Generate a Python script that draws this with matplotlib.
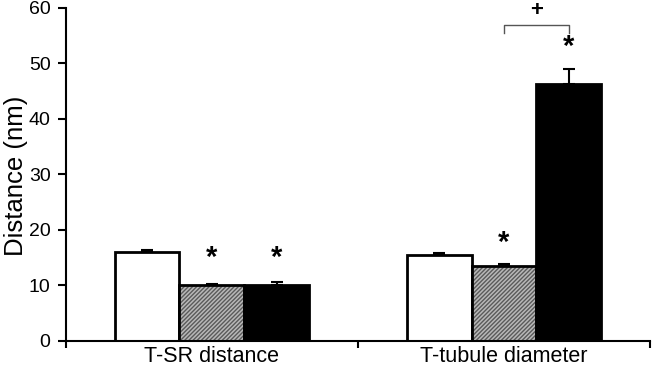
import numpy as np
import matplotlib
matplotlib.use("Agg")
import matplotlib.pyplot as plt

plt.rcParams["font.family"] = ["Liberation Sans", "DejaVu Sans"]
plt.rcParams["hatch.linewidth"] = 1.0

groups = ["T-SR distance", "T-tubule diameter"]
control = [16.0, 15.4]
control_err = [0.3, 0.5]
hatched = [10.0, 13.5]
hatched_err = [0.2, 0.3]
black = [10.0, 46.2]
black_err = [0.6, 2.8]

# significance marks: (bar index, group, y)
star_marks = [(1, 0, 15.0), (2, 0, 15.0), (1, 1, 17.7), (2, 1, 53.0)]

fig = plt.figure(figsize=(6.52, 3.75), dpi=100)
ax = fig.add_axes([0.101, 0.091, 0.896, 0.888])

x = np.arange(len(groups))
w = 0.222
pos = [x - w, x, x + w]

ax.bar(pos[0], control, w, color="white", edgecolor="black", linewidth=2, zorder=2)
ax.bar(pos[1], hatched, w, color="#b8b8b8", edgecolor="#5a5a5a", hatch="////////",
       linewidth=0, zorder=2)
ax.bar(pos[1], hatched, w, color="none", edgecolor="black", linewidth=2, zorder=3)
ax.bar(pos[2], black, w, color="black", edgecolor="black", linewidth=2, zorder=2)

for p, vals, errs in zip(pos, [control, hatched, black], [control_err, hatched_err, black_err]):
    ax.errorbar(p, vals, yerr=[np.zeros(len(errs)), errs], fmt="none", ecolor="black",
                elinewidth=1.5, capsize=4, capthick=1.5, zorder=1)

for k, g, yv in star_marks:
    ax.text(pos[k][g], yv, "*", ha="center", va="center", fontsize=21,
            fontweight="bold", zorder=4)

# bracket between hatched and black in group 2
bx0, bx1 = pos[1][1], pos[2][1]
ax.plot([bx0, bx0, bx1, bx1], [55.5, 56.9, 56.9, 55.5], color="#555555", lw=1,
        clip_on=False)
ax.text((bx0 + bx1) / 2, 59.6, "+", ha="center", va="center", fontsize=16,
        fontweight="bold", clip_on=False)

ax.set_xlim(-0.5, 1.5)
ax.set_ylim(0, 60)
ax.set_yticks(range(0, 61, 10))
ax.set_xticks([-0.5, 0.5, 1.5])
ax.set_xticklabels([])
ax.set_xticks(x, minor=True)
ax.set_xticklabels(groups, minor=True, fontsize=15.5)
ax.tick_params(axis="x", which="minor", length=0, pad=4)
ax.tick_params(axis="x", which="major", direction="out", length=5, width=1.5)
ax.tick_params(axis="y", direction="out", length=6, width=1.5, labelsize=14, pad=5)
ax.set_ylabel("Distance (nm)", fontsize=18.5)
ax.yaxis.set_label_coords(-0.064, 0.495)

for s in ["top", "right"]:
    ax.spines[s].set_visible(False)
for s in ["left", "bottom"]:
    ax.spines[s].set_linewidth(1.5)

fig.savefig("out.png", dpi=100)
